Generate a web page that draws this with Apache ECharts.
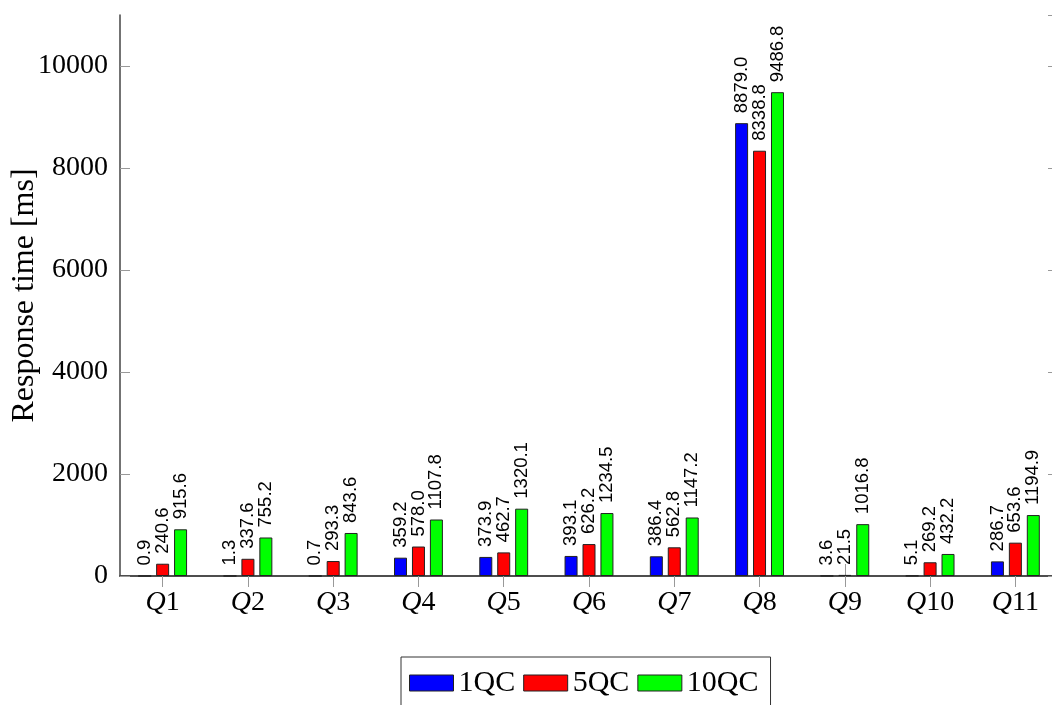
<!DOCTYPE html>
<html>
<head>
<meta charset="utf-8">
<script src="https://cdn.jsdelivr.net/npm/echarts@6/dist/echarts.min.js"></script>
<style>
  html, body { margin: 0; padding: 0; background: #fff; }
  #chart { width: 1052px; height: 705px; }
</style>
</head>
<body>
<div id="chart"></div>
<script>
// categories and series values
const queries = ['Q1', 'Q2', 'Q3', 'Q4', 'Q5', 'Q6', 'Q7', 'Q8', 'Q9', 'Q10', 'Q11'];
const qc1 = [0.9, 1.3, 0.7, 359.2, 373.9, 393.1, 386.4, 8879.0, 3.6, 5.1, 286.7];
const qc5 = [240.6, 337.6, 293.3, 578.0, 462.7, 626.2, 562.8, 8338.8, 21.5, 269.2, 653.6];
const qc10 = [915.6, 755.2, 843.6, 1107.8, 1320.1, 1234.5, 1147.2, 9486.8, 1016.8, 432.2, 1194.9];
const seriesNames = ['1QC', '5QC', '10QC'];
const seriesColors = ['#0000ff', '#ff0000', '#00ff00'];

const serif = '"Liberation Serif", "DejaVu Serif", serif';
const lineColor = '#444';
const tickColor = '#999';

let chart = echarts.init(document.getElementById('chart'), null, { renderer: 'canvas' });

// 柱子的通用设置
function makeSeries(name, data, color) {
    return {
        name: name,
        type: 'bar',
        data: data,
        barWidth: 13,
        barGap: '38%',
        itemStyle: {
            color: color,
            borderColor: '#222',
            borderWidth: 1
        },
        label: {
            show: true,
            position: 'top',
            rotate: 90,
            align: 'left',
            verticalAlign: 'middle',
            distance: 10,
            fontFamily: '"Liberation Sans", Arial, sans-serif',
            fontSize: 18.5,
            color: '#000',
            formatter: (p) => p.value.toFixed(1)
        }
    };
}

let option = {
    animation: false,
    grid: {
        left: 120,
        width: 938,   // 右边框在图片外面
        top: 15,
        bottom: 129,
        containLabel: false,
        outerBoundsMode: 'none'
    },
    legend: {
        data: seriesNames,
        left: 401,
        top: 657,
        itemWidth: 44,
        itemHeight: 16,
        itemGap: 8,
        padding: [11, 12, 30, 8],
        borderColor: '#333',
        borderWidth: 1,
        icon: 'rect',
        itemStyle: { borderColor: '#222', borderWidth: 1 },
        textStyle: {
            fontFamily: serif,
            fontSize: 30,
            color: '#000'
        }
    },
    xAxis: [
        {
            type: 'category',
            data: queries,
            position: 'bottom',
            axisLine: { show: true, lineStyle: { color: lineColor, width: 1.5 } },
            axisTick: { show: true, alignWithLabel: true, length: 11, lineStyle: { color: tickColor } },
            axisLabel: {
                margin: 13,
                formatter: (v) => '{q|Q}{n|' + v.slice(1) + '}',
                rich: {
                    q: { fontFamily: serif, fontStyle: 'italic', fontSize: 28, color: '#000' },
                    n: { fontFamily: serif, fontSize: 28, color: '#000' }
                }
            }
        },
        {
            type: 'category',
            data: queries,
            position: 'top',
            axisLine: { show: true, lineStyle: { color: lineColor, width: 1.5 } },
            axisTick: { show: true, alignWithLabel: true, length: 12, lineStyle: { color: tickColor } },
            axisLabel: { show: false }
        }
    ],
    yAxis: [
        {
            type: 'value',
            min: 0,
            max: 11000,
            interval: 2000,
            position: 'left',
            name: 'Response time [ms]',
            nameLocation: 'middle',
            nameGap: 79,
            nameMoveOverlap: false,
            nameTextStyle: { fontFamily: serif, fontSize: 32, color: '#000' },
            axisLine: { show: true, lineStyle: { color: lineColor, width: 1.5 } },
            axisTick: { show: true, inside: true, length: 10, lineStyle: { color: tickColor } },
            axisLabel: {
                margin: 12,
                showMaxLabel: false,
                fontFamily: serif,
                fontSize: 28,
                color: '#000',
                formatter: (v) => String(v)
            },
            splitLine: { show: false }
        },
        {
            // 右边的轴线在图片外，只露出刻度
            type: 'value',
            min: 0,
            max: 11000,
            interval: 2000,
            position: 'right',
            axisLine: { show: false },
            axisTick: { show: true, inside: true, length: 10, lineStyle: { color: tickColor } },
            axisLabel: { show: false },
            splitLine: { show: false }
        }
    ],
    series: [
        makeSeries(seriesNames[0], qc1, seriesColors[0]),
        makeSeries(seriesNames[1], qc5, seriesColors[1]),
        makeSeries(seriesNames[2], qc10, seriesColors[2])
    ]
};

chart.setOption(option);
</script>
</body>
</html>
